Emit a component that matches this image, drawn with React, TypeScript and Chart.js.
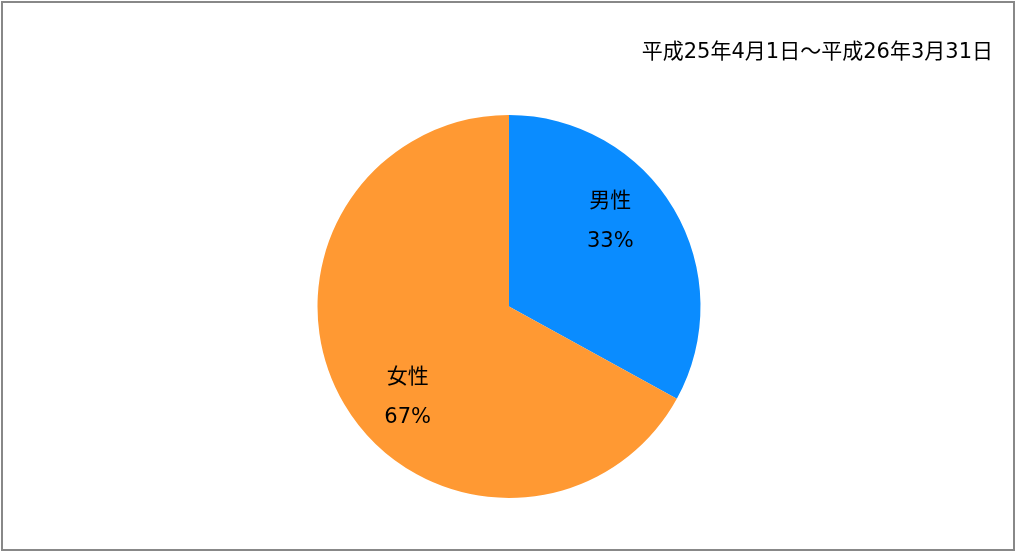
import React, { useEffect, useRef } from 'react';
import { Chart, registerables } from 'chart.js';

Chart.register(...registerables);

const categories = ['男性', '女性'];
const shares = [33, 67];
const sliceColors = ['#0A8CFF', '#FF9933'];
const periodLabel = '平成25年4月1日～平成26年3月31日';

const FONT = '"DejaVu Sans", "Noto Sans CJK JP", sans-serif';

// draws the category name and percentage inside each slice
const sliceLabels = {
  id: 'sliceLabels',
  afterDatasetsDraw(chart: any) {
    const ctx = chart.ctx;
    const meta = chart.getDatasetMeta(0);
    ctx.save();
    ctx.fillStyle = '#000';
    ctx.font = `21px ${FONT}`;
    ctx.textAlign = 'center';
    ctx.textBaseline = 'middle';
    meta.data.forEach((arc: any, i: number) => {
      const { x, y, startAngle, endAngle, outerRadius } = arc.getProps(
        ['x', 'y', 'startAngle', 'endAngle', 'outerRadius'],
        true
      );
      const mid = (startAngle + endAngle) / 2 - 0.18;
      const r = outerRadius * 0.7;
      const cx = x + Math.cos(mid) * r;
      const cy = y + Math.sin(mid) * r;
      ctx.fillText(categories[i], cx, cy - 17);
      ctx.fillText(`${shares[i]}%`, cx, cy + 23);
    });
    ctx.restore();
  },
};

// period text in the top-right corner
const periodTitle = {
  id: 'periodTitle',
  afterDraw(chart: any) {
    const ctx = chart.ctx;
    ctx.save();
    ctx.fillStyle = '#000';
    ctx.font = `21px ${FONT}`;
    ctx.textAlign = 'right';
    ctx.textBaseline = 'middle';
    ctx.fillText(periodLabel, chart.width - 20, 50);
    ctx.restore();
  },
};

const App: React.FC = () => {
  const canvasRef = useRef<HTMLCanvasElement>(null);
  const chartRef = useRef<Chart | null>(null);

  useEffect(() => {
    if (chartRef.current) {
      chartRef.current.destroy();
    }
    if (canvasRef.current) {
      chartRef.current = new Chart(canvasRef.current, {
        type: 'pie',
        data: {
          labels: categories,
          datasets: [
            {
              data: shares,
              backgroundColor: sliceColors,
              borderWidth: 0,
            },
          ],
        },
        options: {
          responsive: false,
          animation: false,
          layout: { padding: { top: 112, bottom: 51, left: 2, right: 0 } },
          plugins: {
            legend: { display: false },
            tooltip: { enabled: false },
          },
        },
        plugins: [sliceLabels, periodTitle],
      });
    }
    return () => {
      if (chartRef.current) {
        chartRef.current.destroy();
        chartRef.current = null;
      }
    };
  }, []);

  return (
    <div
      style={{
        position: 'absolute',
        left: 1,
        top: 1,
        width: 1010,
        height: 546,
        border: '2px solid #888',
        background: '#fff',
      }}
    >
      <canvas ref={canvasRef} width={1010} height={546} style={{ display: 'block' }} />
    </div>
  );
};

export default App;
